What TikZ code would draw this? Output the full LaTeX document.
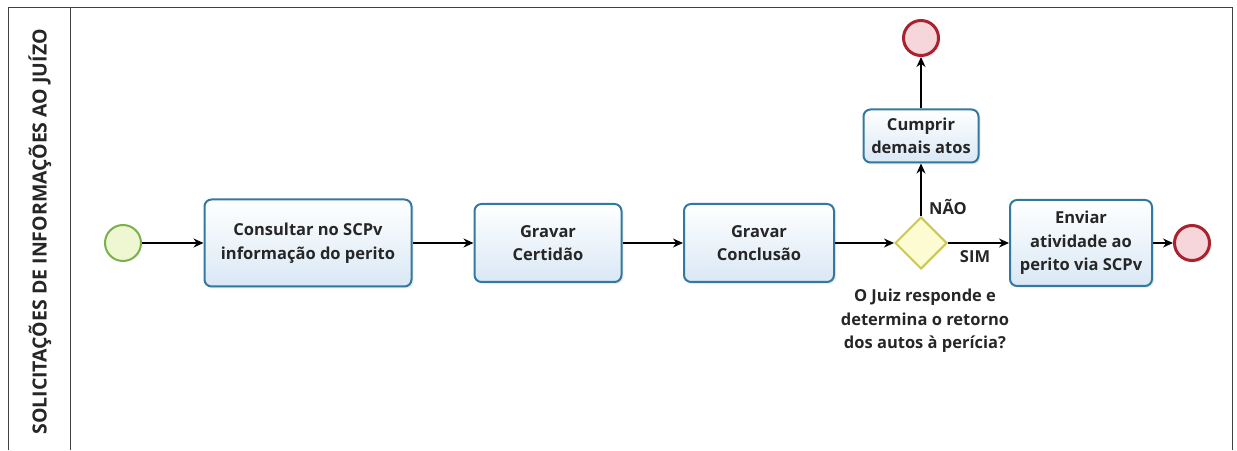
\documentclass[tikz,border=0pt]{standalone}
\usepackage{fontspec}
\setmainfont{Open Sans}
\usepackage{tikz}
\usetikzlibrary{positioning}
\usetikzlibrary{shapes.geometric,shadows}
\usetikzlibrary{arrows.meta}
\definecolor{taskfill}{HTML}{D9E8F5}
\definecolor{taskline}{HTML}{33799F}
\definecolor{startfill}{HTML}{EEF7D2}
\definecolor{startline}{HTML}{79B14A}
\definecolor{endfill}{HTML}{F6D6DA}
\definecolor{endline}{HTML}{A8232D}
\definecolor{gatefill}{HTML}{FCFBD2}
\definecolor{gateline}{HTML}{C9C953}
\tikzset{>={Stealth[length=10pt,width=9pt]}}
\tikzset{
  task/.style={rectangle, rounded corners=7pt, draw=taskline, line width=2pt,
    top color=white, bottom color=taskfill, align=center, inner sep=0pt,
    drop shadow={opacity=0.15, shadow xshift=2pt, shadow yshift=-2pt}},
  startev/.style={circle, draw=startline, line width=2pt, fill=startfill,
    minimum size=36pt, inner sep=0pt},
  endev/.style={circle, draw=endline, line width=3pt, fill=endfill,
    minimum size=35pt, inner sep=0pt,
    drop shadow={opacity=0.15, shadow xshift=2pt, shadow yshift=-2pt}},
  gateway/.style={diamond, aspect=1, draw=gateline, line width=2pt, fill=gatefill,
    minimum width=52pt, minimum height=52pt, inner sep=0pt},
  flow/.style={->, line width=1.2pt},
}

\begin{document}
\begin{tikzpicture}[x=1pt,y=1pt, font=\bfseries\fontsize{16.5}{23.5}\selectfont, text=black!85]
\useasboundingbox (0,0) rectangle (1237,450);

% Pool and lane
\draw[line width=1pt, black!75] (8,0) -- (8,442) -- (1232,442) -- (1232,0);
\draw[line width=1pt, black!75] (70,0) -- (70,442);
\node[rotate=90, font=\bfseries\fontsize{19.5}{22}\selectfont] (lane) at (40,218)
  {SOLICITAÇÕES DE INFORMAÇÕES AO JUÍZO};

% Events
\node[startev] (start) at (123,207) {};
\node[endev] (fimtopo) at (921,412) {};
\node[endev] (fim) at (1192,207) {};

% Tasks
\node[task, minimum width=207pt, minimum height=87pt] (consultar) at (308,207)
  {Consultar no SCPv\\informação do perito};
\node[task, minimum width=147pt, minimum height=78pt] (certidao) at (548,207)
  {Gravar\\Certidão};
\node[task, minimum width=150pt, minimum height=78pt] (conclusao) at (759,207)
  {Gravar\\Conclusão};
\node[task, minimum width=115pt, minimum height=53pt] (cumprir) at (921,314)
  {Cumprir\\demais atos};
\node[task, minimum width=142pt, minimum height=86pt] (enviar) at (1081,207)
  {Enviar\\atividade ao\\perito via SCPv};

% Gateway
\node[gateway] (decisao) at (921,207) {};
\node[align=center] (pergunta) at (925,129)
  {O Juiz responde e\\determina o retorno\\dos autos à perícia?};

% Flows
\draw[flow] (start) -- (consultar);
\draw[flow] (consultar) -- (certidao);
\draw[flow] (certidao) -- (conclusao);
\draw[flow] (conclusao) -- (decisao);
\draw[flow] (decisao) -- (enviar);
\draw[flow] (enviar) -- (fim);
\draw[flow] (decisao) -- (cumprir);
\draw[flow] (cumprir) -- (fimtopo);

% Labels
\node (nao) at (948,243) {NÃO};
\node (sim) at (975,193) {SIM};

\end{tikzpicture}
\end{document}
